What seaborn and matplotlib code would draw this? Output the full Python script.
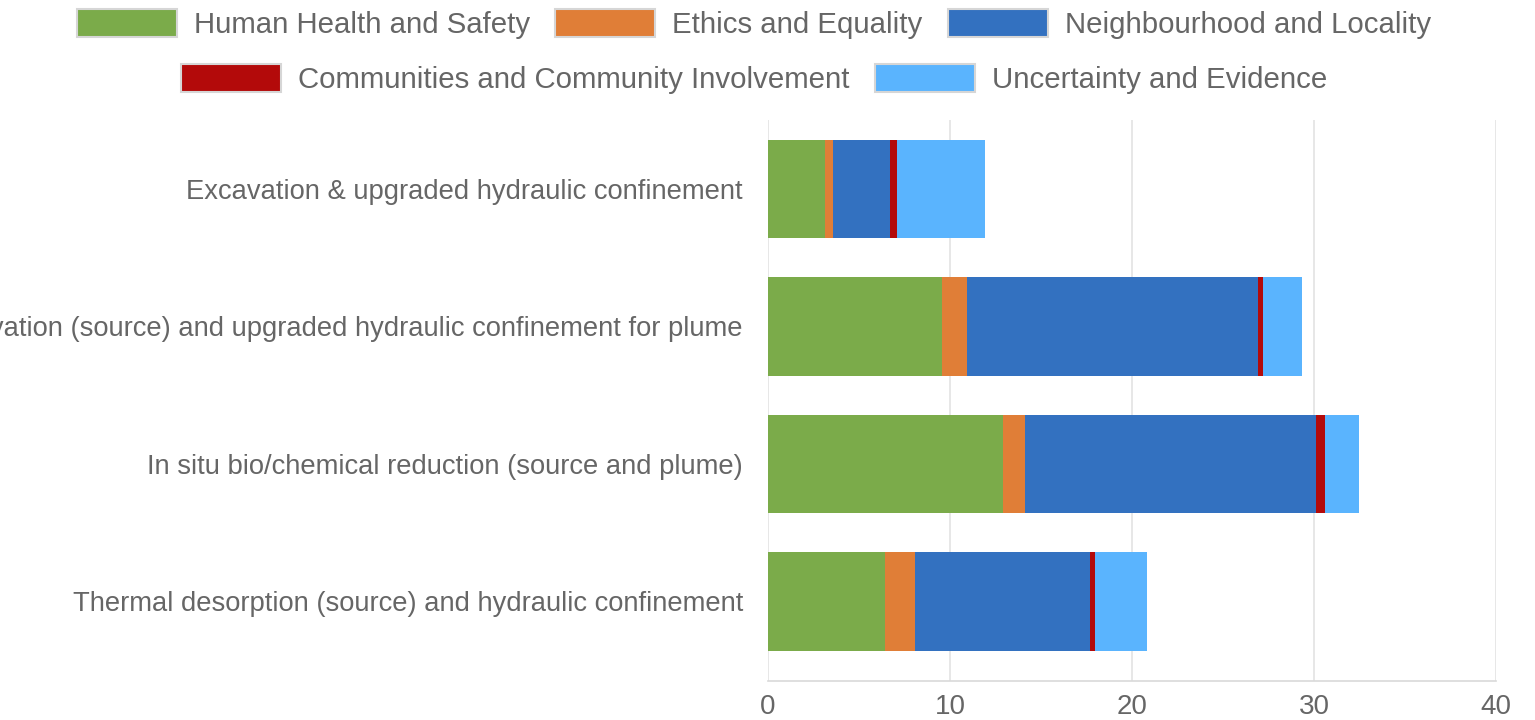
import matplotlib
matplotlib.use("Agg")
import matplotlib.pyplot as plt
from matplotlib.patches import Patch
import numpy as np
import pandas as pd
import seaborn as sns

categories = [
    "Excavation & upgraded hydraulic confinement",
    "Excavation (source) and upgraded hydraulic confinement for plume",
    "In situ bio/chemical reduction (source and plume)",
    "Thermal desorption (source) and hydraulic confinement",
]
series_names = [
    "Human Health and Safety",
    "Ethics and Equality",
    "Neighbourhood and Locality",
    "Communities and Community Involvement",
    "Uncertainty and Evidence",
]
health = [3.14, 9.57, 12.89, 6.44]
ethics = [0.42, 1.35, 1.22, 1.64]
neighbourhood = [3.13, 16.03, 16.02, 9.59]
communities = [0.40, 0.24, 0.46, 0.28]
uncertainty = [4.83, 2.14, 1.88, 2.88]
x_ticks = [0, 10, 20, 30, 40]

colors = ["#7bab4a", "#e07e37", "#3371c0", "#b30a0a", "#5ab4fe"]

sns.set_theme(style="white")
plt.rcParams['font.family'] = ['Liberation Sans', 'DejaVu Sans']

fig = plt.figure(figsize=(15.35, 7.2), dpi=100)
ax = fig.add_axes([0.5003, 0.054, 0.4743, 0.779])

vals = np.array([health, ethics, neighbourhood, communities, uncertainty])
cum = np.cumsum(vals, axis=0)

# draw from outermost layer inwards so stacking appears
for i in range(len(series_names) - 1, -1, -1):
    df = pd.DataFrame({"category": categories, "value": cum[i]})
    sns.barplot(data=df, x="value", y="category", orient="h", color=colors[i],
                saturation=1, width=0.715, ax=ax, linewidth=0, zorder=3)

ax.set_xlim(0, 40)
ax.set_ylim(3.58, -0.5)
ax.set_xticks(x_ticks)
ax.set_xticklabels([str(t) for t in x_ticks])
ax.set_xlabel("")
ax.set_ylabel("")
ax.grid(axis="x", color="#e3e3e3", linewidth=1.2, zorder=0)
ax.grid(axis="y", visible=False)
for s in ["top", "right", "left"]:
    ax.spines[s].set_visible(False)
ax.spines["bottom"].set_color("#d9d9d9")
ax.spines["bottom"].set_linewidth(1.2)
ax.tick_params(axis="x", colors="#666666", labelsize=20, length=5, width=1.2,
               color="#e3e3e3", pad=4)
ax.tick_params(axis="y", colors="#666666", labelsize=19.7, length=0, pad=18)
for lab in ax.get_xticklabels() + ax.get_yticklabels():
    lab.set_color("#666666")

handles = [Patch(facecolor=c, edgecolor="#d6d6d6", linewidth=1.5) for c in colors]
leg_kw = dict(frameon=False, fontsize=21.2, handlelength=3.4, handleheight=1.1,
              handletextpad=0.58, columnspacing=0.85, labelcolor="#666666",
              borderpad=0, borderaxespad=0)
leg1 = fig.legend(handles[:3], series_names[:3], loc="center", ncol=3,
                  bbox_to_anchor=(754 / 1535, 1 - 24 / 720), **leg_kw)
leg2 = fig.legend(handles[3:], series_names[3:], loc="center", ncol=2,
                  bbox_to_anchor=(754 / 1535, 1 - 79 / 720), **leg_kw)

fig.savefig("out.png", dpi=100)
